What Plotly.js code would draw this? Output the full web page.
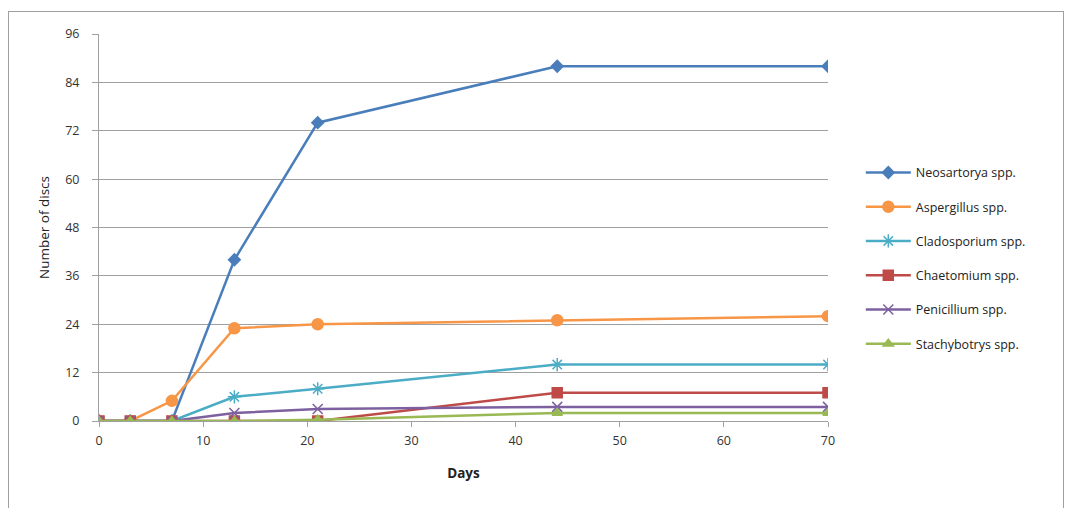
<!DOCTYPE html>
<html>
<head>
<meta charset="utf-8">
<script src="https://cdn.plot.ly/plotly-3.0.1.min.js"></script>
<style>
html,body{margin:0;padding:0;background:#fff;}
#wrap{position:relative;width:1067px;height:508px;overflow:hidden;}
#frame{position:absolute;left:8px;top:11px;width:1056px;height:520px;border:1px solid #a0a0a0;box-sizing:border-box;}
#chart{position:absolute;left:0;top:0;width:1067px;height:508px;}
</style>
</head>
<body>
<div id="wrap"><div id="frame"></div><div id="chart"></div></div>
<script>
const days = [0, 3, 7, 13, 21, 44, 70];
const seriesNames = ["Neosartorya spp.", "Aspergillus spp.", "Cladosporium spp.", "Chaetomium spp.", "Penicillium spp.", "Stachybotrys spp."];
const neosartorya = [0, 0, 0, 40, 74, 88, 88];
const aspergillus = [0, 0, 5, 23, 24, 25, 26];
const cladosporium = [0, 0, 0, 6, 8, 14, 14];
const chaetomium = [0, 0, 0, 0, 0, 7, 7];
const penicillium = [0, 0, 0, 2, 3, 3.5, 3.5];
const stachybotrys = [0, 0, 0, 0, 0.3, 2, 2];
const yTicks = [0, 12, 24, 36, 48, 60, 72, 84, 96];
const xTicks = [0, 10, 20, 30, 40, 50, 60, 70];

const values = [neosartorya, aspergillus, cladosporium, chaetomium, penicillium, stachybotrys];
const colors = ["#4a7ebb", "#f79646", "#4bacc6", "#be4b48", "#7d60a0", "#98b954"];
const symbols = ["diamond", "circle", "asterisk-open", "square", "x-thin-open", "triangle-up"];
const sizes = [9, 11, 11, 10, 10, 9];

const data = values.map((v, i) => ({
  x: days, y: v, name: seriesNames[i], type: "scatter", mode: "lines+markers",
  legendgroup: "g" + i,
  line: {color: colors[i], width: 2.5},
  marker: {color: colors[i], symbol: symbols[i], size: sizes[i], line: {color: colors[i], width: 1.5}}
}));

const layout = {
  width: 1067, height: 508,
  margin: {l: 99, r: 239, t: 34, b: 87},
  paper_bgcolor: "rgba(0,0,0,0)", plot_bgcolor: "rgba(0,0,0,0)",
  font: {family: "Open Sans, Liberation Sans, sans-serif", size: 12, color: "#333"},
  showlegend: true,
  legend: {x: 1.045, y: 0.68, xanchor: "left", yanchor: "top", traceorder: "grouped", tracegroupgap: 15,
           font: {size: 12.5, color: "#222"}, bgcolor: "rgba(0,0,0,0)", itemwidth: 45},
  xaxis: {range: [0, 70], tickvals: xTicks, ticktext: xTicks.map(String), showgrid: false, zeroline: false,
          showline: true, linecolor: "#a0a0a0", linewidth: 1, ticks: "outside", ticklen: 5, tickcolor: "#a0a0a0",
          tickfont: {size: 12.5, color: "#333"}, ticklabelstandoff: 3,
          title: {text: "<b>Days</b>", font: {size: 13.5, color: "#222"}, standoff: 20}},
  yaxis: {range: [0, 96], tickvals: yTicks, ticktext: yTicks.map(String), showgrid: true, gridcolor: "#a0a0a0", gridwidth: 1,
          zeroline: false, showline: true, linecolor: "#a0a0a0", linewidth: 1, ticks: "outside", ticklen: 6, tickcolor: "#a0a0a0",
          tickfont: {size: 12.5, color: "#333"}, ticklabelstandoff: 10,
          title: {text: "Number of discs", font: {size: 13.5, color: "#222"}, standoff: 12}}
};
Plotly.newPlot("chart", data, layout, {displayModeBar: false, staticPlot: true});
</script>
</body>
</html>
